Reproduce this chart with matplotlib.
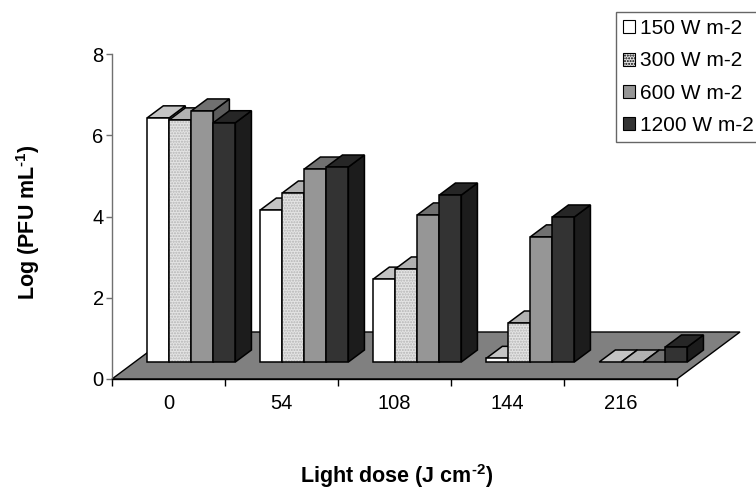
import matplotlib
matplotlib.use("Agg")
import matplotlib.pyplot as plt
from matplotlib.patches import Polygon, Patch

plt.rcParams['font.family'] = ['Liberation Sans', 'DejaVu Sans']
plt.rcParams['mathtext.fontset'] = 'custom'
plt.rcParams['mathtext.rm'] = 'Liberation Sans:bold'
plt.rcParams['mathtext.bf'] = 'Liberation Sans:bold'

# ===== Data =====
doses = ["0", "54", "108", "144", "216"]
series = ["150 W m-2", "300 W m-2", "600 W m-2", "1200 W m-2"]
log_pfu_150 = [6.01, 3.74, 2.04, 0.09, 0.0]
log_pfu_300 = [5.96, 4.16, 2.29, 0.96, 0.0]
log_pfu_600 = [6.18, 4.75, 3.62, 3.08, 0.0]
log_pfu_1200 = [5.89, 4.80, 4.11, 3.57, 0.37]
values = [log_pfu_150, log_pfu_300, log_pfu_600, log_pfu_1200]

# ===== Styling =====
# face colours: (front, top, side)
faces = [("#ffffff", "#c4c4c4", "#a8a8a8"),
         ("#e4e4e4", "#b0b0b0", "#8c8c8c"),
         ("#969696", "#707070", "#5c5c5c"),
         ("#333333", "#262626", "#1c1c1c")]
stipple = [None, "#b4b4b4", None, None]
tick_size = 14.5
label_size = 15.5
legend_size = 15
edge_w = 1.1

# oblique depth: full floor depth in data units (x, y)
DX, DY = 0.5575, 1.157
D0, D1 = 0.362, 0.617      # bar depth band
bar_w = 0.195
group_w = bar_w * len(series)


def proj(x, y, d):
    return (x + d * DX, y + d * DY)


def face(ax, pts, fc, hatch_col=None, z=2):
    if hatch_col is not None:
        ax.add_patch(Polygon(pts, closed=True, facecolor=fc, edgecolor=hatch_col,
                             hatch="......", linewidth=0, zorder=z, clip_on=False))
        ax.add_patch(Polygon(pts, closed=True, facecolor="none", edgecolor="black",
                             linewidth=edge_w, zorder=z, clip_on=False))
    else:
        ax.add_patch(Polygon(pts, closed=True, facecolor=fc, edgecolor="black",
                             linewidth=edge_w, zorder=z, clip_on=False,
                             joinstyle="miter"))


fig = plt.figure(figsize=(7.56, 4.91), dpi=100)
ax = fig.add_axes([112 / 756, 1 - 379 / 491, 565 / 756, 325 / 491])
ax.set_xlim(-0.5, len(doses) - 0.5)
ax.set_ylim(0, 8)

# floor
x_lo, x_hi = -0.5, len(doses) - 0.5
floor = [proj(x_lo, 0, 0), proj(x_hi, 0, 0), proj(x_hi, 0, 1), proj(x_lo, 0, 1)]
ax.add_patch(Polygon(floor, closed=True, facecolor="#808080", edgecolor="black",
                     linewidth=1.0, zorder=1, clip_on=False))

# bars, painted left to right
for c in range(len(doses)):
    for j, vals in enumerate(values):
        h = vals[c]
        x0 = c - group_w / 2 + j * bar_w
        x1 = x0 + bar_w
        front_c, top_c, side_c = faces[j]
        front = [proj(x0, 0, D0), proj(x1, 0, D0), proj(x1, h, D0), proj(x0, h, D0)]
        top = [proj(x0, h, D0), proj(x1, h, D0), proj(x1, h, D1), proj(x0, h, D1)]
        side = [proj(x1, 0, D0), proj(x1, 0, D1), proj(x1, h, D1), proj(x1, h, D0)]
        face(ax, side, side_c, z=2)
        face(ax, top, top_c, stipple[j], z=2)
        if h > 0:
            face(ax, front, front_c, stipple[j], z=2)

# ===== Axes =====
for s in ["top", "right"]:
    ax.spines[s].set_visible(False)
ax.spines["left"].set_color("#707070")
ax.spines["left"].set_linewidth(1.0)
ax.spines["bottom"].set_color("black")
ax.spines["bottom"].set_linewidth(1.0)
ax.spines["bottom"].set_zorder(3)
ax.patch.set_visible(False)

ax.set_yticks([0, 2, 4, 6, 8])
ax.tick_params(axis="y", direction="out", length=4, width=1, color="#707070",
               labelsize=tick_size, pad=2)
ax.set_xticks(range(len(doses)))
ax.set_xticklabels(doses)
ax.set_xticks([i - 0.5 for i in range(len(doses) + 1)], minor=True)
ax.tick_params(axis="x", which="major", length=0, labelsize=tick_size, pad=11)
ax.tick_params(axis="x", which="minor", direction="out", length=5, width=1, color="black")

fig.text(28 / 756, 1 - 222 / 491, r"Log (PFU mL$^{\text{-1}}$)", rotation=90,
         ha="center", va="center", fontsize=label_size, fontweight="bold")
fig.text(397 / 756, 1 - 476 / 491, r"Light dose (J cm$^{\text{-2}}$)",
         ha="center", va="center", fontsize=label_size, fontweight="bold")

# ===== Legend =====
handles = []
for j in range(len(series)):
    if stipple[j]:
        handles.append(Patch(facecolor=faces[j][0], edgecolor="black", hatch="......",
                             linewidth=0.8))
    else:
        handles.append(Patch(facecolor=faces[j][0], edgecolor="black", linewidth=0.8))
leg = fig.legend(handles, series, loc="upper left",
                 bbox_to_anchor=(616 / 756, 1 - 12 / 491), fontsize=legend_size,
                 frameon=True, fancybox=False, handlelength=0.58, handleheight=0.58,
                 handletextpad=0.2, labelspacing=0.63, borderpad=0.35,
                 borderaxespad=0)
leg.get_frame().set_edgecolor("#404040")
leg.get_frame().set_linewidth(1.0)

fig.savefig("out.png", dpi=100)
